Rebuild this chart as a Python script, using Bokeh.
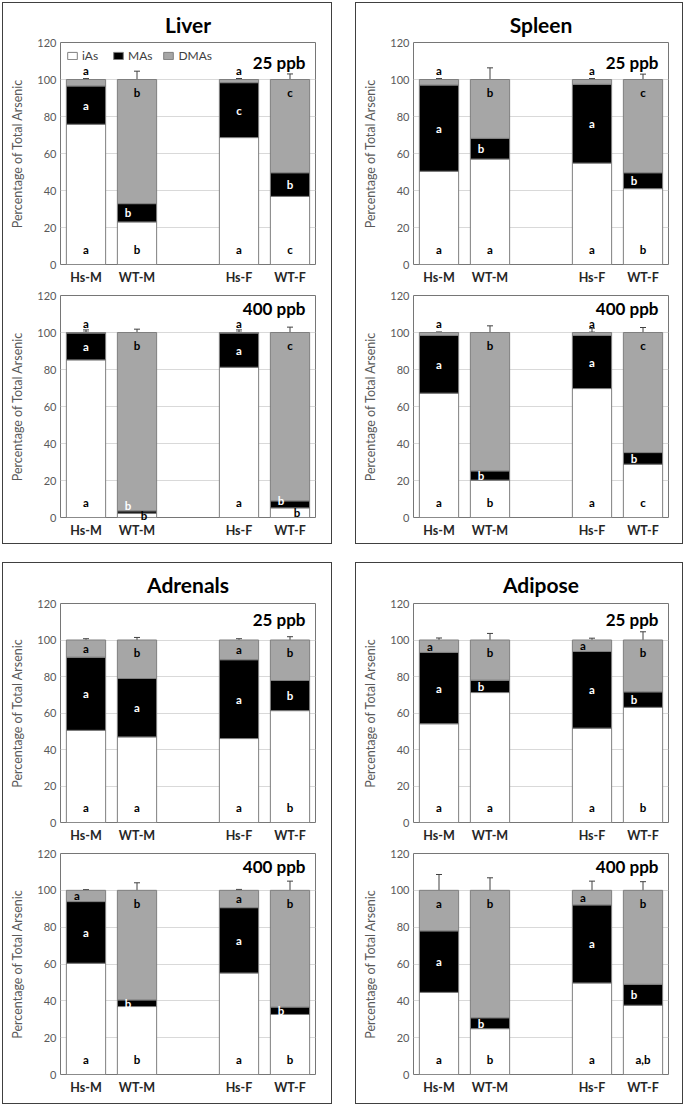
from bokeh.plotting import figure
from bokeh.models import (FactorRange, ColumnDataSource, Whisker, TeeHead, Label,
                          Legend, LegendItem, FixedTicker)
from bokeh.layouts import column, row
from bokeh.core.properties import value
from bokeh.embed import file_html
from bokeh.resources import INLINE

# ---------------- data ----------------
GROUPS = ["Hs-M", "WT-M", "Hs-F", "WT-F"]
FACTORS = ["Hs-M", "WT-M", " ", "Hs-F", "WT-F"]
SPECIES = ["iAs", "MAs", "DMAs"]
Y_TICKS = [0, 20, 40, 60, 80, 100, 120]

# Liver
liver_25_ias = [75.8, 23.0, 68.6, 36.8]
liver_25_mas = [20.7, 9.9, 29.7, 12.8]
liver_25_dma = [3.5, 67.1, 1.7, 50.4]
liver_25_err_ias = [3.7, 4.0, 2.4, 3.0]
liver_25_err_mas = [3.5, 0.4, 2.0, 0.5]
liver_25_err_dma = [0.5, 4.5, 0.5, 3.0]
liver_25_let_ias = ["a", "b", "a", "c"]
liver_25_let_mas = ["a", "b", "c", "b"]
liver_25_let_dma = ["a", "b", "a", "c"]

liver_400_ias = [85.2, 2.3, 81.2, 5.2]
liver_400_mas = [14.5, 1.3, 18.5, 3.8]
liver_400_dma = [0.3, 96.4, 0.3, 91.0]
liver_400_err_ias = [1.4, 0.5, 1.4, 2.0]
liver_400_err_mas = [1.7, 0.5, 1.7, 1.0]
liver_400_err_dma = [0.2, 1.8, 0.2, 2.9]
liver_400_let_ias = ["a", "b", "a", "b"]
liver_400_let_mas = ["a", "b", "a", "b"]
liver_400_let_dma = ["a", "b", "a", "c"]

# Spleen
spleen_25_ias = [50.4, 57.0, 54.8, 41.0]
spleen_25_mas = [46.6, 11.2, 42.6, 8.6]
spleen_25_dma = [3.0, 31.8, 2.6, 50.4]
spleen_25_err_ias = [1.6, 6.7, 1.1, 3.2]
spleen_25_err_mas = [1.1, 2.7, 2.1, 0.7]
spleen_25_err_dma = [0.5, 6.3, 0.5, 2.9]
spleen_25_let_ias = ["a", "a", "a", "b"]
spleen_25_let_mas = ["a", "b", "a", "b"]
spleen_25_let_dma = ["a", "b", "a", "c"]

spleen_400_ias = [67.2, 20.2, 69.7, 28.8]
spleen_400_mas = [31.2, 5.0, 28.7, 6.3]
spleen_400_dma = [1.6, 74.8, 1.6, 64.9]
spleen_400_err_ias = [1.6, 2.9, 1.7, 2.6]
spleen_400_err_mas = [1.2, 0.3, 1.8, 0.3]
spleen_400_err_dma = [0.3, 3.6, 2.3, 2.7]
spleen_400_let_ias = ["a", "b", "a", "c"]
spleen_400_let_mas = ["a", "b", "a", "b"]
spleen_400_let_dma = ["a", "b", "a", "c"]

# Adrenals
adrenals_25_ias = [50.5, 46.9, 46.0, 61.3]
adrenals_25_mas = [40.1, 32.0, 43.2, 16.5]
adrenals_25_dma = [9.4, 21.1, 10.8, 22.2]
adrenals_25_err_ias = [2.1, 5.9, 2.1, 3.6]
adrenals_25_err_mas = [2.2, 8.0, 1.8, 2.4]
adrenals_25_err_dma = [0.7, 1.4, 0.7, 1.8]
adrenals_25_let_ias = ["a", "a", "a", "b"]
adrenals_25_let_mas = ["a", "a", "a", "b"]
adrenals_25_let_dma = ["a", "b", "a", "b"]

adrenals_400_ias = [60.4, 36.9, 55.1, 32.6]
adrenals_400_mas = [33.5, 3.6, 35.5, 4.0]
adrenals_400_dma = [6.1, 59.5, 9.4, 63.4]
adrenals_400_err_ias = [1.9, 4.5, 2.2, 4.9]
adrenals_400_err_mas = [1.6, 0.9, 1.5, 0.9]
adrenals_400_err_dma = [0.4, 4.1, 0.5, 5.0]
adrenals_400_let_ias = ["a", "b", "a", "b"]
adrenals_400_let_mas = ["a", "b", "a", "b"]
adrenals_400_let_dma = ["a", "b", "a", "b"]

# Adipose
adipose_25_ias = [54.1, 71.2, 51.7, 63.1]
adipose_25_mas = [39.1, 6.8, 42.0, 8.5]
adipose_25_dma = [6.8, 22.0, 6.3, 28.4]
adipose_25_err_ias = [6.6, 5.9, 2.9, 5.8]
adipose_25_err_mas = [5.4, 4.4, 2.0, 1.4]
adipose_25_err_dma = [1.1, 3.6, 1.0, 4.5]
adipose_25_let_ias = ["a", "a", "a", "b"]
adipose_25_let_mas = ["a", "b", "a", "b"]
adipose_25_let_dma = ["a", "b", "a", "b"]

adipose_400_ias = [44.6, 24.9, 49.7, 37.6]
adipose_400_mas = [33.4, 5.9, 42.4, 11.4]
adipose_400_dma = [22.0, 69.2, 7.9, 51.0]
adipose_400_err_ias = [5.8, 6.8, 4.5, 4.9]
adipose_400_err_mas = [3.3, 1.0, 4.3, 3.1]
adipose_400_err_dma = [8.6, 6.8, 5.0, 4.7]
adipose_400_let_ias = ["a", "b", "a", "a,b"]
adipose_400_let_mas = ["a", "b", "a", "b"]
adipose_400_let_dma = ["a", "b", "a", "b"]

# ---------------- style ----------------
FONT = "Lato"
COL_IAS, COL_MAS, COL_DMA = "white", "black", "#A6A6A6"
BAR_LINE = "#7F7F7F"
ERR_IAS, ERR_MAS, ERR_DMA = "#C8C8C8", "#404040", "#404040"
TXT_GRAY = "#595959"
BAR_W = 0.77


def make_plot(dose, ias, mas, dma, e_ias, e_mas, e_dma, l_ias, l_mas, l_dma,
              width, b_left, b_right, height, b_top, b_bottom, dose_y,
              title=None, title_offset=0, title_standoff=10, legend=False):
    p = figure(x_range=FactorRange(factors=FACTORS, range_padding=0, factor_padding=0),
               y_range=(0, 120), width=width, height=height,
               min_border_left=b_left, min_border_right=b_right,
               min_border_top=b_top, min_border_bottom=b_bottom,
               output_backend="svg", toolbar_location=None,
               background_fill_color="white", border_fill_color="white",
               outline_line_color="#767676", outline_line_width=1)
    if title:
        p.title.text = title
        p.title.align = "center"
        p.title.offset = title_offset
        p.title.standoff = title_standoff
        p.title.text_font = FONT
        p.title.text_font_size = "21px"
        p.title.text_font_style = "bold"
        p.title.text_color = "black"

    top1 = [a for a in ias]
    top2 = [a + m for a, m in zip(ias, mas)]
    top3 = [a + m + d for a, m, d in zip(ias, mas, dma)]

    r1 = p.vbar(x=GROUPS, bottom=0, top=top1, width=BAR_W, fill_color=COL_IAS,
                line_color=BAR_LINE, line_width=1)
    r2 = p.vbar(x=GROUPS, bottom=top1, top=top2, width=BAR_W, fill_color=COL_MAS,
                line_color=BAR_LINE, line_width=1)
    r3 = p.vbar(x=GROUPS, bottom=top2, top=top3, width=BAR_W, fill_color=COL_DMA,
                line_color=BAR_LINE, line_width=1)

    for tops, errs, col in ((top1, e_ias, ERR_IAS), (top2, e_mas, ERR_MAS), (top3, e_dma, ERR_DMA)):
        src = ColumnDataSource(dict(x=GROUPS, lower=tops, upper=[t + e for t, e in zip(tops, errs)]))
        w = Whisker(source=src, base="x", lower="lower", upper="upper", dimension="height",
                    line_color=col, line_width=1,
                    upper_head=TeeHead(size=6, line_color=col, line_width=1), lower_head=None)
        p.add_layout(w)

    # significance letters (placed relative to the stacked segments)
    xs, ys, txt, cols, xo = [], [], [], [], []
    for i, g in enumerate(GROUPS):
        a, m, d = ias[i], mas[i], dma[i]
        xs.append(g); txt.append(l_ias[i]); cols.append("black")
        if a < 10:
            ys.append(a / 2 + 0.1); xo.append(7)
        else:
            ys.append(8); xo.append(0)
        xs.append(g); txt.append(l_mas[i]); cols.append("white")
        ys.append(a + 4 if a < 10 else a + m / 2)
        xo.append(-9 if m < 12.5 else 0)
        xs.append(g); txt.append(l_dma[i]); cols.append("black")
        if d < 4:
            ys.append(105); xo.append(0)
        elif d < 12:
            ys.append(100 - d / 2); xo.append(-9 if d < 9 else 0)
        else:
            ys.append(93); xo.append(0)
    lsrc = ColumnDataSource(dict(x=xs, y=ys, t=txt, c=cols, xo=xo))
    tr = p.text(x="x", y="y", text="t", text_color="c", x_offset="xo", source=lsrc,
                text_font=value(FONT), text_font_style="bold", text_font_size="11.5px",
                text_align="center", text_baseline="middle")
    tr.level = "overlay"

    p.add_layout(Label(x=5, y=dose_y, x_offset=-10, text=dose, text_align="right",
                       text_baseline="middle", text_font=FONT, text_font_style="bold",
                       text_font_size="17px", text_color="black"))

    if legend:
        lg = Legend(items=[LegendItem(label=SPECIES[0], renderers=[r1]),
                           LegendItem(label=SPECIES[1], renderers=[r2]),
                           LegendItem(label=SPECIES[2], renderers=[r3])],
                    orientation="horizontal", location="top_left",
                    background_fill_alpha=0, border_line_color=None,
                    glyph_width=12, glyph_height=9, label_height=12, label_standoff=4,
                    spacing=10, padding=0, margin=6,
                    label_text_font=FONT, label_text_font_size="12px",
                    label_text_color="#404040")
        p.add_layout(lg)

    p.xgrid.visible = False
    p.ygrid.ticker = FixedTicker(ticks=Y_TICKS)
    p.ygrid.grid_line_color = "#D9D9D9"
    p.ygrid.grid_line_width = 1
    p.yaxis.ticker = FixedTicker(ticks=Y_TICKS)
    p.yaxis.axis_label = "Percentage of Total Arsenic"
    p.yaxis.axis_label_text_font = FONT
    p.yaxis.axis_label_text_font_style = "normal"
    p.yaxis.axis_label_text_font_size = "12.5px"
    p.yaxis.axis_label_text_color = TXT_GRAY
    p.yaxis.axis_label_standoff = 9
    p.yaxis.major_label_text_font = FONT
    p.yaxis.major_label_text_font_size = "11px"
    p.yaxis.major_label_text_color = TXT_GRAY
    p.yaxis.major_label_standoff = 4
    p.xaxis.major_label_text_font = FONT
    p.xaxis.major_label_text_font_style = "bold"
    p.xaxis.major_label_text_font_size = "12.5px"
    p.xaxis.major_label_text_color = "#262626"
    p.xaxis.major_label_standoff = 5
    p.xaxis.axis_label_standoff = 0
    for ax in (p.xaxis, p.yaxis):
        ax.axis_line_color = None
        ax.major_tick_line_color = None
        ax.minor_tick_line_color = None
        ax.major_tick_out = 0
        ax.major_tick_in = 0
        ax.minor_tick_out = 0
        ax.minor_tick_in = 0
    return p


def panel(name, d25, d400, top_row, left_col):
    if left_col:
        w, bl, br, toff = 328, 57, 16, -20
    else:
        w, bl, br, toff = 326, 57, 14, -19
    if top_row:
        h1, t1, b1, h2, t2, b2 = 284, 39, 22, 256, 8, 26
        y25, y400, tst = 109, 113, 11
    else:
        h1, t1, b1, h2, t2, b2 = 282, 38, 23, 258, 8, 29
        y25, y400, tst = 111.5, 113, 13
    f1 = make_plot("25 ppb", *d25, width=w, b_left=bl, b_right=br, height=h1, b_top=t1,
                   b_bottom=b1, dose_y=y25, title=name, title_offset=toff,
                   title_standoff=tst, legend=(name == "Liver"))
    f2 = make_plot("400 ppb", *d400, width=w, b_left=bl, b_right=br, height=h2, b_top=t2,
                   b_bottom=b2, dose_y=y400)
    return column(f1, f2, spacing=0, styles={"border": "1px solid #404040"})


liver = panel("Liver",
              (liver_25_ias, liver_25_mas, liver_25_dma, liver_25_err_ias, liver_25_err_mas,
               liver_25_err_dma, liver_25_let_ias, liver_25_let_mas, liver_25_let_dma),
              (liver_400_ias, liver_400_mas, liver_400_dma, liver_400_err_ias, liver_400_err_mas,
               liver_400_err_dma, liver_400_let_ias, liver_400_let_mas, liver_400_let_dma),
              True, True)
spleen = panel("Spleen",
               (spleen_25_ias, spleen_25_mas, spleen_25_dma, spleen_25_err_ias, spleen_25_err_mas,
                spleen_25_err_dma, spleen_25_let_ias, spleen_25_let_mas, spleen_25_let_dma),
               (spleen_400_ias, spleen_400_mas, spleen_400_dma, spleen_400_err_ias, spleen_400_err_mas,
                spleen_400_err_dma, spleen_400_let_ias, spleen_400_let_mas, spleen_400_let_dma),
               True, False)
adrenals = panel("Adrenals",
                 (adrenals_25_ias, adrenals_25_mas, adrenals_25_dma, adrenals_25_err_ias,
                  adrenals_25_err_mas, adrenals_25_err_dma, adrenals_25_let_ias,
                  adrenals_25_let_mas, adrenals_25_let_dma),
                 (adrenals_400_ias, adrenals_400_mas, adrenals_400_dma, adrenals_400_err_ias,
                  adrenals_400_err_mas, adrenals_400_err_dma, adrenals_400_let_ias,
                  adrenals_400_let_mas, adrenals_400_let_dma),
                 False, True)
adipose = panel("Adipose",
                (adipose_25_ias, adipose_25_mas, adipose_25_dma, adipose_25_err_ias,
                 adipose_25_err_mas, adipose_25_err_dma, adipose_25_let_ias,
                 adipose_25_let_mas, adipose_25_let_dma),
                (adipose_400_ias, adipose_400_mas, adipose_400_dma, adipose_400_err_ias,
                 adipose_400_err_mas, adipose_400_err_dma, adipose_400_let_ias,
                 adipose_400_let_mas, adipose_400_let_dma),
                False, False)

left = column(liver, adrenals, spacing=18)
right = column(spleen, adipose, spacing=18)
root = row(left, right, spacing=23, styles={"margin-left": "2px", "margin-top": "2px"})

open("out.html", "w").write(file_html(root, INLINE))
